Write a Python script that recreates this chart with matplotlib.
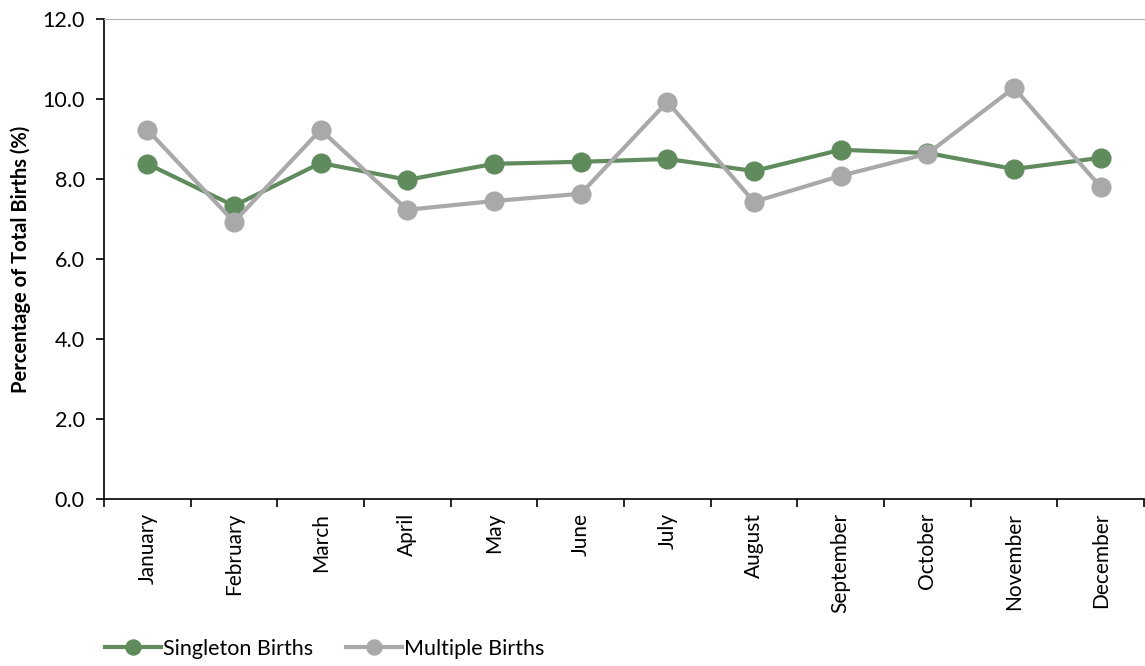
import numpy as np
import matplotlib.pyplot as plt

plt.rcParams['font.family'] = ['Lato', 'DejaVu Sans']

# Monthly share of births (%)
months = ['January', 'February', 'March', 'April', 'May', 'June', 'July',
          'August', 'September', 'October', 'November', 'December']
singleton = [8.38, 7.33, 8.40, 7.98, 8.38, 8.43, 8.50, 8.20, 8.73, 8.65, 8.25, 8.53]
multiple = [9.23, 6.93, 9.23, 7.23, 7.45, 7.63, 9.93, 7.43, 8.08, 8.63, 10.28, 7.80]

green = '#5f8b5d'
grey = '#a9a9a9'

fig = plt.figure(figsize=(11.45, 6.66), dpi=100)
ax = fig.add_axes([104 / 1145, 167 / 666, 1040 / 1145, 480 / 666])

x = np.arange(len(months))
ax.plot(x, singleton, color=green, lw=3, marker='o', ms=13.5, label='Singleton Births', zorder=3)
ax.plot(x, multiple, color=grey, lw=3, marker='o', ms=13.5, label='Multiple Births', zorder=3)

ax.set_xlim(-0.5, len(months) - 0.5)
ax.set_ylim(0, 12)
ax.set_yticks(np.arange(0, 12.1, 2))
ax.set_yticklabels(['%.1f' % v for v in np.arange(0, 12.1, 2)], fontsize=15.5)
ax.set_xticks(x)
ax.set_xticklabels(months, rotation=90, fontsize=15)
ax.set_xticks(np.arange(-0.5, len(months)), minor=True)
ax.tick_params(axis='x', which='major', length=0, pad=10)
ax.tick_params(axis='x', which='minor', length=6, width=1.2, direction='out')
ax.tick_params(axis='y', length=6, width=1.2, direction='out', pad=8)

ax.set_ylabel('Percentage of Total Births (%)', fontsize=14.5, fontweight='bold', labelpad=8)

ax.spines['right'].set_visible(False)
ax.spines['top'].set_color('#b0b0b0')
ax.spines['left'].set_linewidth(1.2)
ax.spines['bottom'].set_linewidth(1.2)

fig.legend(loc='lower left', bbox_to_anchor=(0.075, -0.018), ncol=2, frameon=False,
           fontsize=15.5, handlelength=2.6, columnspacing=1.5, handletextpad=0.1,
           markerscale=0.8)

fig.savefig('out.png', dpi=100)
